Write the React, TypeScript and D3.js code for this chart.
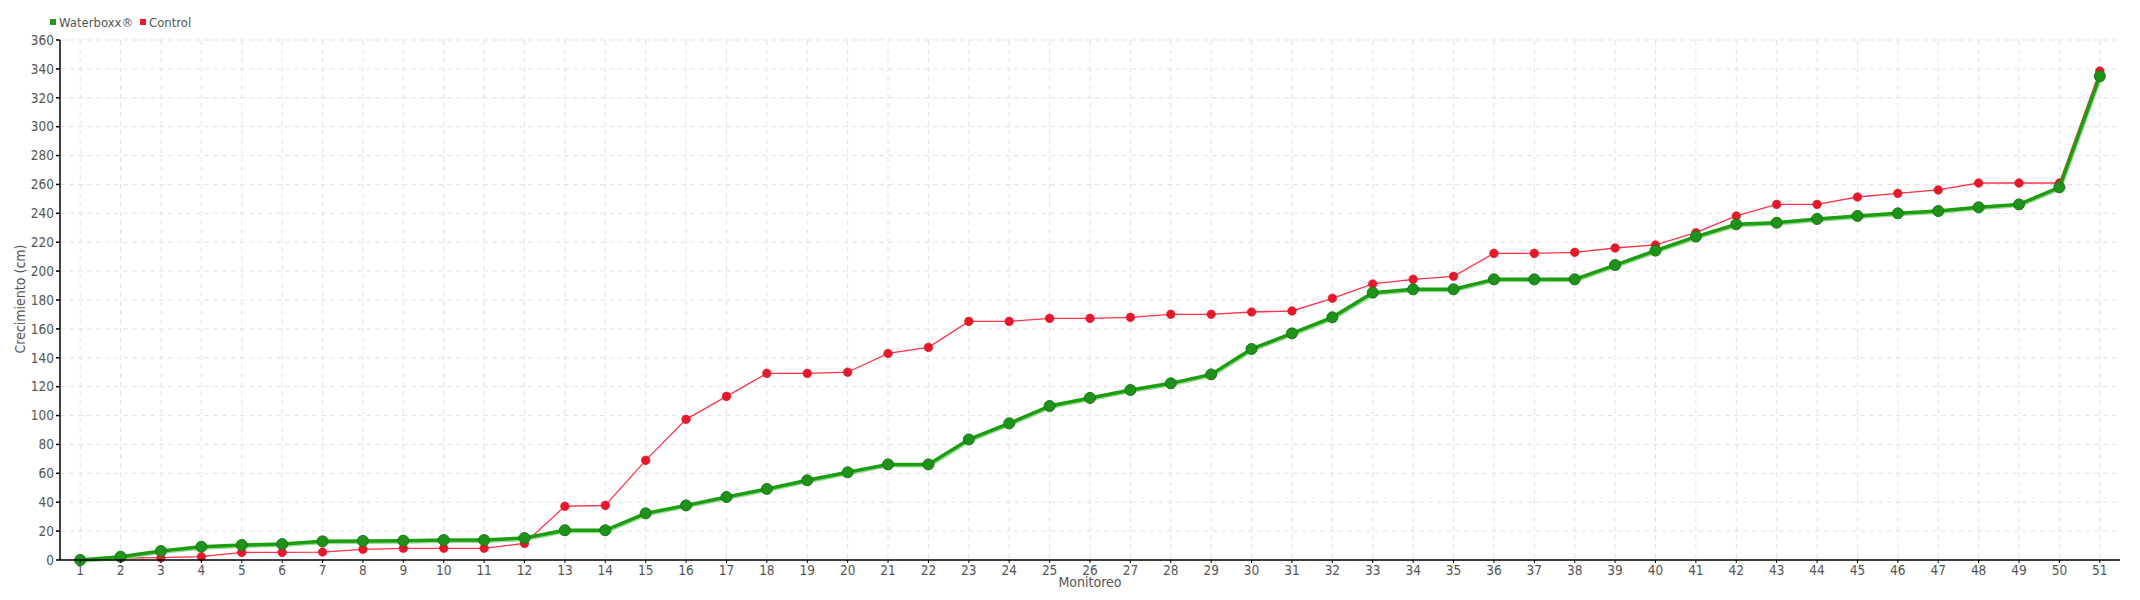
import React from "react";
import * as d3 from "d3";

const categories: string[] = Array.from({ length: 51 }, (_, i) => String(i + 1));

const waterboxx: number[] = [
  0, 2.3, 6.2, 9.2, 10.4, 11, 12.9, 13.2, 13.4, 13.8,
  13.8, 15.2, 20.6, 20.6, 32.3, 37.8, 43.6, 49.2, 55.2, 60.7,
  66.2, 66.2, 83.5, 94.6, 106.6, 112.2, 117.7, 122.3, 128.5, 146.1,
  156.9, 168, 185.1, 187.4, 187.4, 194.3, 194.3, 194.3, 204.2, 214.2,
  223.9, 232.4, 233.5, 236.1, 238.2, 240, 241.6, 244.2, 246.2, 258,
  334.9,
];

const control: number[] = [
  0, 1.4, 1.6, 2.3, 5.3, 5.3, 5.5, 7.4, 8.1, 8.1,
  8.1, 11.5, 37.2, 37.8, 69, 97.4, 113.3, 129.2, 129.2, 130,
  143, 147.2, 165.2, 165.2, 167.3, 167.3, 168, 170.1, 170.1, 171.7,
  172.4, 181.2, 191.1, 194.3, 196.4, 212.3, 212.3, 213, 216, 218.1,
  226.6, 238.2, 246.2, 246.2, 251.3, 253.8, 256.2, 261, 261, 261,
  338.5,
];

const yTicks: number[] = d3.range(0, 361, 20);

const seriesNames = ["Waterboxx®", "Control"];

const FONT = "'Liberation Sans Narrow', 'DejaVu Sans Condensed', 'Arial Narrow', sans-serif";

export default function App() {
  const width = 2140;
  const height = 600;
  const left = 60;
  const right = 2120;
  const top = 40;
  const bottom = 560;

  const x = d3.scaleBand<string>().domain(categories).range([left, right]);
  const cx = (c: string) => (x(c) as number) + x.bandwidth() / 2;
  const y = d3.scaleLinear().domain([0, 360]).range([bottom, top]);

  const line = d3
    .line<number>()
    .x((_, i) => cx(categories[i]))
    .y((d) => y(d));

  const textColor = "#555";

  return (
    <svg
      width={width}
      height={height}
      style={{ position: "absolute", left: 0, top: 0, display: "block", background: "#fff" }}
      fontFamily={FONT}
    >
      {/* grid */}
      <g>
        {yTicks.map((t) => (
          <line
            key={"h" + t}
            x1={left}
            x2={right}
            y1={y(t)}
            y2={y(t)}
            stroke="#e2e2e2"
            strokeWidth={1}
            strokeDasharray="5,4"
          />
        ))}
        {categories.map((c) => (
          <line
            key={"v" + c}
            x1={cx(c)}
            x2={cx(c)}
            y1={top}
            y2={bottom}
            stroke="#e2e2e2"
            strokeWidth={1}
            strokeDasharray="5,4"
          />
        ))}
      </g>

      {/* control series */}
      <path d={line(control) || ""} fill="none" stroke="#ff3347" strokeWidth={1.3} />
      {control.map((v, i) => (
        <circle key={"c" + i} cx={cx(categories[i])} cy={y(v)} r={4.3} fill="#e8182b" stroke="#d81427" strokeWidth={0.6} />
      ))}

      {/* waterboxx series */}
      <g transform="translate(1,1.5)">
        <path d={line(waterboxx) || ""} fill="none" stroke="#7fd07a" strokeWidth={3} opacity={0.8} />
      </g>
      <path d={line(waterboxx) || ""} fill="none" stroke="#1c9e10" strokeWidth={3.5} strokeLinejoin="round" />
      {waterboxx.map((v, i) => (
        <circle key={"w" + i} cx={cx(categories[i])} cy={y(v)} r={5.5} fill="#1f921a" stroke="#167512" strokeWidth={1} />
      ))}

      {/* axes */}
      <line x1={left} x2={left} y1={top} y2={bottom} stroke="#000" strokeWidth={1.5} />
      <line x1={left} x2={right} y1={bottom} y2={bottom} stroke="#000" strokeWidth={1.5} />
      {yTicks.map((t) => (
        <g key={"yt" + t}>
          <line x1={left - 4} x2={left} y1={y(t)} y2={y(t)} stroke="#000" strokeWidth={1.5} />
          <text x={left - 6} y={y(t)} dy="0.35em" textAnchor="end" fontSize={13.5} fill={textColor}>
            {t}
          </text>
        </g>
      ))}
      {categories.map((c) => (
        <g key={"xt" + c}>
          <line x1={cx(c)} x2={cx(c)} y1={bottom} y2={bottom + 3} stroke="#000" strokeWidth={1} />
          <text x={cx(c)} y={bottom + 15} textAnchor="middle" fontSize={13.5} fill={textColor}>
            {c}
          </text>
        </g>
      ))}

      {/* axis titles */}
      <text x={1090} y={587} textAnchor="middle" fontSize={14} fill={textColor}>
        Monitoreo
      </text>
      <text
        transform="translate(25,299) rotate(-90)"
        textAnchor="middle"
        fontSize={14}
        fill={textColor}
      >
        Crecimiento (cm)
      </text>

      {/* legend */}
      <g>
        <rect x={50} y={19} width={6} height={6} fill="#1f9a14" />
        <text x={59} y={27} fontSize={13} fill={textColor}>
          {seriesNames[0]}
        </text>
        <rect x={140} y={19} width={6} height={6} fill="#ee1a2e" />
        <text x={149} y={27} fontSize={13} fill={textColor}>
          {seriesNames[1]}
        </text>
      </g>
    </svg>
  );
}
